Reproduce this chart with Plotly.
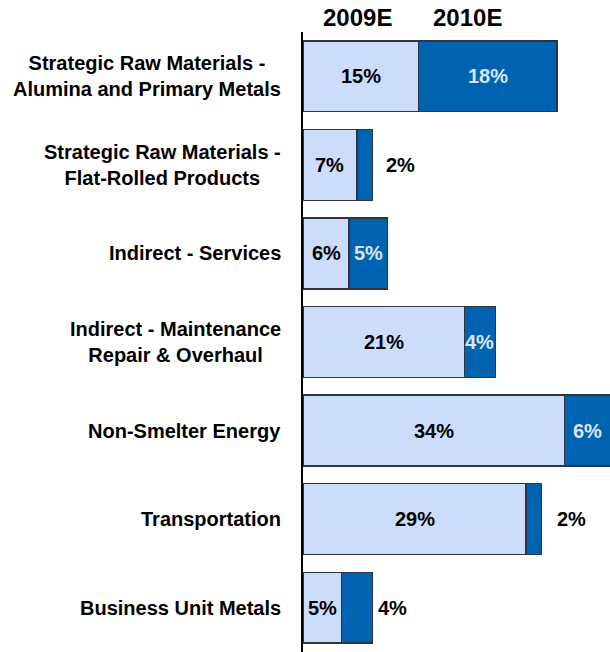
import plotly.graph_objects as go

# Spend categories (top to bottom) and the two estimate series
categories = [
    "Strategic Raw Materials -<br>Alumina and Primary Metals",
    "Strategic Raw Materials -<br>Flat-Rolled Products",
    "Indirect - Services",
    "Indirect - Maintenance<br>Repair & Overhaul",
    "Non-Smelter Energy",
    "Transportation",
    "Business Unit Metals",
]
series_names = ["2009E", "2010E"]
values_2009 = [15, 7, 6, 21, 34, 29, 5]
values_2010 = [18, 2, 5, 4, 6, 2, 4]

# Where each 2010E label sits: inside the bar or just past its end (px gap)
label_place_2010 = ["in", "out", "in", "in", "in", "out", "out"]
outside_gap_px = [0, 12, 0, 0, 0, 13, 4]

LIGHT = "#CCDCFB"
DARK = "#0063B1"
EDGE = "#2E3440"
FONT = "Liberation Sans, Arial, sans-serif"
LABEL_SIZE = 20
VALUE_SIZE = 20
HEADER_SIZE = 24

fig = go.Figure()
fig.add_trace(go.Bar(
    y=categories, x=values_2009, name=series_names[0], orientation="h",
    marker=dict(color=LIGHT, line=dict(color=EDGE, width=1.5)),
    hoverinfo="skip",
))
fig.add_trace(go.Bar(
    y=categories, x=values_2010, name=series_names[1], orientation="h",
    marker=dict(color=DARK, line=dict(color=EDGE, width=1.5)),
    hoverinfo="skip",
))

annotations = []
for i, cat in enumerate(categories):
    a, b = values_2009[i], values_2010[i]
    # category label, lines centred, block right-aligned next to the axis
    annotations.append(dict(
        x=0, xref="paper", y=cat, yref="y", xanchor="right", yanchor="middle",
        xshift=-20, text=cat, showarrow=False, align="center",
        font=dict(family=FONT, size=LABEL_SIZE, color="#000000", weight="bold"),
    ))
    # 2009E value, centred in its segment
    annotations.append(dict(
        x=a / 2, y=cat, xref="x", yref="y", text=f"{a}%", showarrow=False,
        xanchor="center", yanchor="middle",
        font=dict(family=FONT, size=VALUE_SIZE, color="#000000", weight="bold"),
    ))
    # 2010E value
    if label_place_2010[i] == "in":
        annotations.append(dict(
            x=a + b / 2, y=cat, xref="x", yref="y", text=f"{b}%",
            showarrow=False, xanchor="center", yanchor="middle",
            font=dict(family=FONT, size=VALUE_SIZE, color="#DCE5F6", weight="bold"),
        ))
    else:
        annotations.append(dict(
            x=a + b, y=cat, xref="x", yref="y", text=f"{b}%",
            showarrow=False, xanchor="left", yanchor="middle",
            xshift=outside_gap_px[i],
            font=dict(family=FONT, size=VALUE_SIZE, color="#000000", weight="bold"),
        ))

# series headers above the bars
header_x = [0.176, 0.536]
for name, hx in zip(series_names, header_x):
    annotations.append(dict(
        x=hx, y=1.024, xref="paper", yref="paper", text=name, showarrow=False,
        xanchor="center", yanchor="middle",
        font=dict(family=FONT, size=HEADER_SIZE, color="#000000", weight="bold"),
    ))

fig.update_layout(
    width=610, height=652,
    margin=dict(l=303, r=0, t=32, b=0),
    barmode="stack", bargap=0.2,
    showlegend=False,
    plot_bgcolor="white", paper_bgcolor="white",
    xaxis=dict(range=[0, 39.9], visible=False, fixedrange=True),
    yaxis=dict(
        autorange="reversed", showticklabels=False, ticks="",
        showgrid=False, zeroline=False,
        showline=True, linecolor="#000000", linewidth=1.5,
        fixedrange=True,
    ),
    annotations=annotations,
)

fig.write_html("out.html", config={"displayModeBar": False})
